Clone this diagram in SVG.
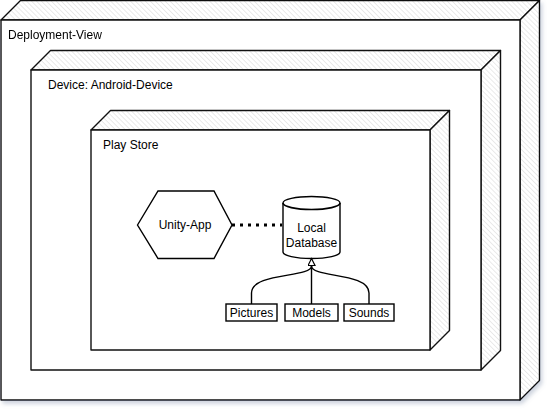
<svg xmlns="http://www.w3.org/2000/svg" width="552" height="412" viewBox="0 0 552 412">
  <defs>
    <pattern id="hatch" patternUnits="userSpaceOnUse" width="3.5" height="3.5" patternTransform="rotate(-45)">
      <rect width="3.5" height="3.5" fill="#ffffff"/>
      <line x1="0" y1="0" x2="0" y2="3.5" stroke="#cccccc" stroke-width="0.8"/>
    </pattern>
    <filter id="shadow" x="-5%" y="-5%" width="112%" height="112%">
      <feDropShadow dx="2" dy="3" stdDeviation="2" flood-color="#7080a0" flood-opacity="0.35"/>
    </filter>
    <marker id="openTri" markerWidth="10" markerHeight="10" refX="8" refY="4" orient="auto" markerUnits="userSpaceOnUse">
      <path d="M1,0.5 L8,4 L1,7.5 Z" fill="#ffffff" stroke="#000000" stroke-width="1.2"/>
    </marker>
    <style>
      .face { fill: #ffffff; stroke: #111111; stroke-width: 1.4; stroke-linejoin: round; }
      .hatch { fill: url(#hatch); stroke: #111111; stroke-width: 1.4; stroke-linejoin: round; }
      .lbl { font-family: "Liberation Sans", Arial, Helvetica, sans-serif; font-size: 12px; fill: #000000; }
      .mid { text-anchor: middle; }
      .shape { fill: #ffffff; stroke: #000000; stroke-width: 1.4; }
      .conn { fill: none; stroke: #000000; stroke-width: 1.4; }
    </style>
  </defs>

  <g id="deployment-view" filter="url(#shadow)">
    <polygon class="hatch" points="1,20 20.5,0.5 539.5,0.5 520,20"/>
    <polygon class="hatch" points="520,20 539.5,0.5 539.5,380.5 520,400"/>
    <rect class="face" x="1" y="20" width="519" height="380"/>
    <text class="lbl" x="8" y="39">Deployment-View</text>
  </g>

  <g id="android-device">
    <polygon class="hatch" points="31,70 50.5,50.5 500.5,50.5 481,70"/>
    <polygon class="hatch" points="481,70 500.5,50.5 500.5,350.5 481,370"/>
    <rect class="face" x="31" y="70" width="450" height="300"/>
    <text class="lbl" x="48" y="89">Device: Android-Device</text>
  </g>

  <g id="play-store">
    <polygon class="hatch" points="91,130 110.5,110.5 449.5,110.5 430,130"/>
    <polygon class="hatch" points="430,130 449.5,110.5 449.5,330.5 430,350"/>
    <rect class="face" x="91" y="130" width="339" height="220"/>
    <text class="lbl" x="103" y="149">Play Store</text>
  </g>

  <g id="unity-app">
    <polygon class="shape" points="137.5,225 158,191 214,191 232,225 214,258.5 158,258.5"/>
    <text class="lbl mid" x="185" y="229">Unity-App</text>
  </g>

  <g id="local-database">
    <path class="shape" d="M283,203 A28.5,6.5 0 0 1 340,203 V252 A28.5,6.5 0 0 1 283,252 Z"/>
    <path d="M283,203 A28.5,6.5 0 0 0 340,203" fill="none" stroke="#000000" stroke-width="1.7"/>
    <text class="lbl mid" x="311.5" y="232">Local</text>
    <text class="lbl mid" x="311.5" y="247">Database</text>
  </g>

  <g id="pictures">
    <rect class="shape" x="226" y="304" width="51" height="17"/>
    <text class="lbl mid" x="251.5" y="317">Pictures</text>
  </g>

  <g id="models">
    <rect class="shape" x="285" y="304" width="53" height="17"/>
    <text class="lbl mid" x="311.5" y="317">Models</text>
  </g>

  <g id="sounds">
    <rect class="shape" x="344" y="304" width="50" height="17"/>
    <text class="lbl mid" x="369" y="317">Sounds</text>
  </g>

  <g id="connectors">
    <path d="M232,225 H282" fill="none" stroke="#000000" stroke-width="3" stroke-dasharray="3 5"/>
    <path class="conn" d="M251.5,304 V293 C251.5,272 311.5,278 311.5,266"/>
    <path class="conn" d="M369,304 V293 C369,272 311.5,278 311.5,266"/>
    <path class="conn" d="M311.5,304 V258.5" marker-end="url(#openTri)"/>
  </g>
</svg>
